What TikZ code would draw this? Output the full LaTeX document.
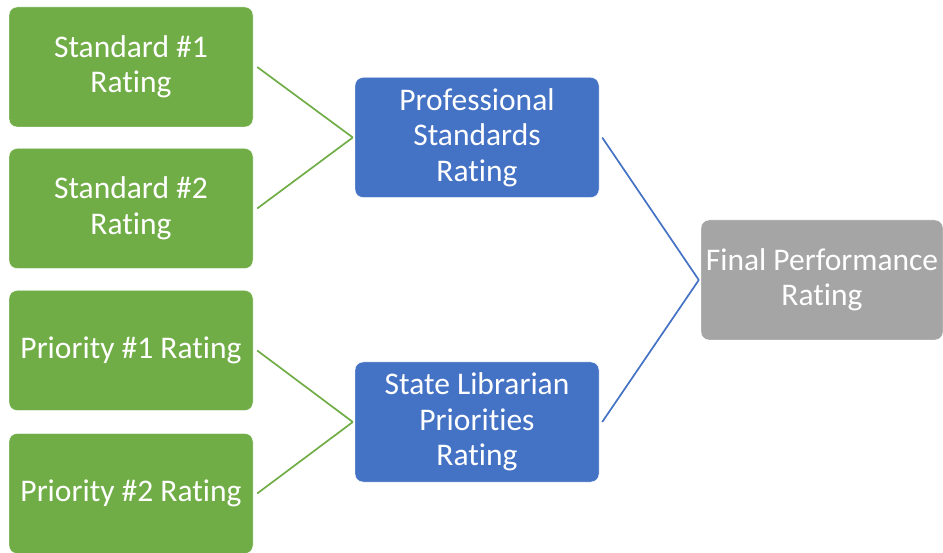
\documentclass[tikz,border=0pt]{standalone}
\usepackage{fontspec}
\setmainfont{Carlito}[Ligatures={NoCommon}, RawFeature={-liga,-dlig,-calt}]
\definecolor{boxgreen}{HTML}{70AD47}
\definecolor{boxblue}{HTML}{4472C4}
\definecolor{boxgrey}{HTML}{A5A5A5}

\begin{document}
\begin{tikzpicture}[x=1pt, y=-1pt,
green/.style={rectangle, rounded corners=8pt, minimum width=244pt, minimum height=120pt, inner sep=2pt, align=center, draw=white, fill=boxgreen, text=white, font=\fontsize{31.5}{35.5}\selectfont},
blue/.style={green, fill=boxblue},
grey/.style={green, minimum width=242pt, fill=boxgrey},
greenline/.style={draw=boxgreen, line width=1.7pt},
blueline/.style={draw=boxblue, line width=1.7pt},
]

\useasboundingbox (0,0) rectangle (943,553);

\node (std1) [green] at (131,67) {Standard \#1\\Rating};
\node (std2) [green] at (131,208.5) {Standard \#2\\Rating};
\node (pri1) [green] at (131,350.5) {Priority \#1 Rating};
\node (pri2) [green] at (131,493.5) {Priority \#2 Rating};
\node (prof) [blue] at (477,137.5) {Professional\\Standards\\Rating};
\node (state) [blue] at (477,422) {State Librarian\\Priorities\\Rating};
\node (final) [grey] at (822,280) {Final Performance\\Rating};

\draw [greenline] ([xshift=4pt]std1.east) -- ([xshift=-2pt]prof.west);
\draw [greenline] ([xshift=4pt]std2.east) -- ([xshift=-2pt]prof.west);
\draw [greenline] ([xshift=4pt]pri1.east) -- ([xshift=-2pt]state.west);
\draw [greenline] ([xshift=4pt]pri2.east) -- ([xshift=-2pt]state.west);
\draw [blueline] ([xshift=3pt]prof.east) -- ([xshift=-2pt]final.west);
\draw [blueline] ([xshift=3pt]state.east) -- ([xshift=-2pt]final.west);

\end{tikzpicture}
\end{document}
